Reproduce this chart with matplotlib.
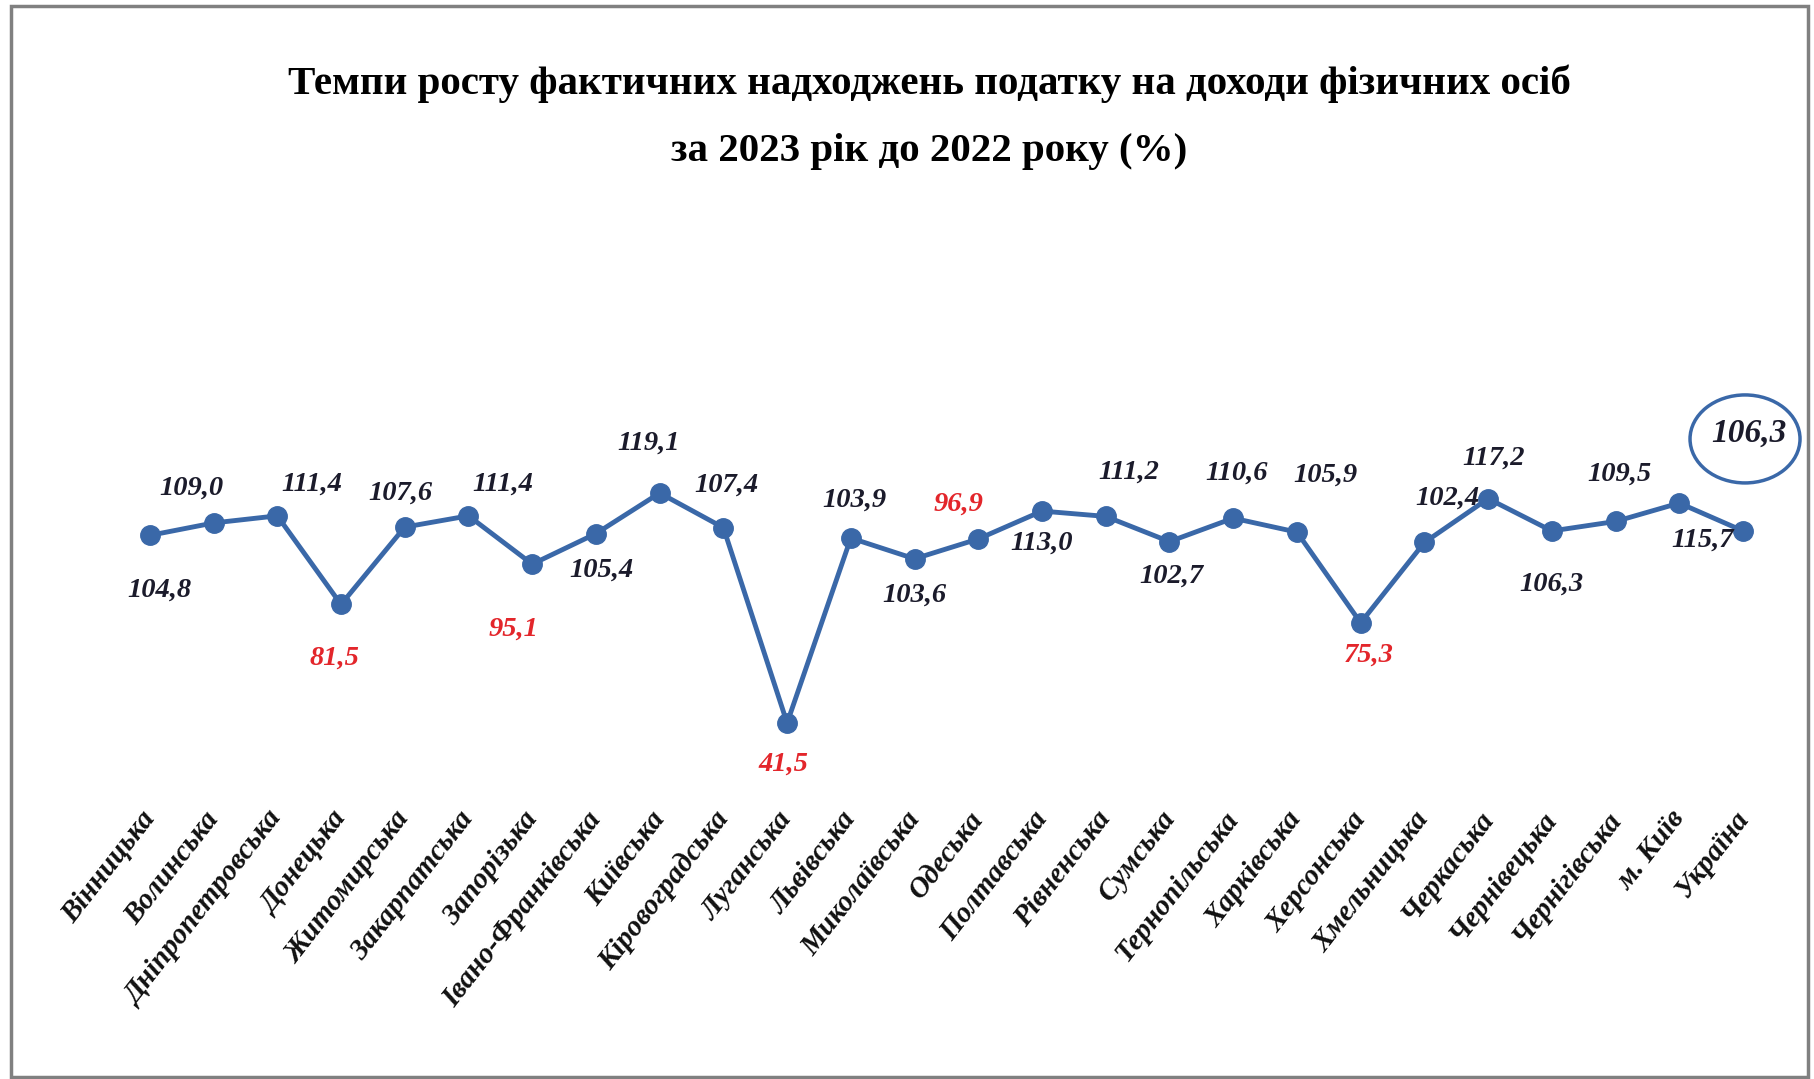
import matplotlib.pyplot as plt
from matplotlib.patches import Ellipse, Rectangle
from matplotlib.transforms import Affine2D, ScaledTranslation

regions = ["Вінницька", "Волинська", "Дніпропетровська", "Донецька", "Житомирська",
           "Закарпатська", "Запорізька", "Івано-Франківська", "Київська", "Кіровоградська",
           "Луганська", "Львівська", "Миколаївська", "Одеська", "Полтавська", "Рівненська",
           "Сумська", "Тернопільська", "Харківська", "Херсонська", "Хмельницька",
           "Черкаська", "Чернівецька", "Чернігівська", "м. Київ", "Україна"]
growth = [104.8, 109.0, 111.4, 81.5, 107.6, 111.4, 95.1, 105.4, 119.1, 107.4,
          41.5, 103.9, 96.9, 103.6, 113.0, 111.2, 102.7, 110.6, 105.9, 75.3,
          102.4, 117.2, 106.3, 109.5, 115.7, 106.3]

# label offsets (pixels of the reference picture, y down)
offs = [(8, 47), (-19, -30), (30, -27), (-6, 46), (-4, -29), (30, -27), (-16, 56),
        (5, 32), (-10, -43), (3, -37), (-3, 36), (3, -33), (38, -47), (-55, 49),
        (0, 28), (20, -38), (2, 30), (3, -39), (25, -49), (7, 28), (20, -38),
        (5, -35), (0, 46), (3, -41), (20, 32), (5, -84)]

line_col = "#3A68A8"
serif = "Liberation Serif"

fig = plt.figure(figsize=(18.15, 10.79), dpi=100)
ax = fig.add_axes([0.065, 0.2632, 0.9129, 0.3373])
x = list(range(len(regions)))
ax.plot(x, growth, color=line_col, lw=3.5, marker="o", ms=14, clip_on=False)
ax.set_xlim(-0.5, 25.5)
ax.set_ylim(17.2, 140)
for s in ax.spines.values():
    s.set_visible(False)
ax.set_yticks([])
ax.set_xticks(x)
ax.set_xticklabels(regions, rotation=52, ha="right", va="center", rotation_mode="anchor",
                   family=serif, fontsize=21, fontweight="bold", fontstyle="italic",
                   color="#111111")
ax.tick_params(axis="x", length=0, pad=14)

k = 1.1575
for i, v in enumerate(growth):
    dx, dy = offs[i]
    col = "#E3262B" if v < 100 else "#1b1b2b"
    fs = 24 if i == len(growth) - 1 else 20.5
    ax.annotate(f"{v:.1f}".replace(".", ","), (i, v), xytext=(dx * k, -dy * k),
                textcoords="offset pixels", ha="center", va="center",
                family=serif, fontsize=fs, fontweight="bold", fontstyle="italic",
                color=col, annotation_clip=False)

# circle around Ukraine value
tr = Affine2D().scale(55, 44).translate(2, 92) + ScaledTranslation(25, growth[-1], ax.transData)
fig.patches.append(Ellipse((0, 0), 2, 2, transform=tr, fill=False, ec=line_col, lw=2.5))

fig.text(0.512, 0.922, "Темпи росту фактичних надходжень податку на доходи фізичних осіб",
         ha="center", va="center", family=serif, fontsize=29.5, fontweight="bold")
fig.text(0.512, 0.860, "за 2023 рік до 2022 року (%)",
         ha="center", va="center", family=serif, fontsize=29.5, fontweight="bold")

fig.patches.append(Rectangle((11 / 1815, 2 / 1079), 1797 / 1815, 1071 / 1079,
                             transform=fig.transFigure, fill=False, ec="#808080", lw=2.5))

plt.savefig("out.png", dpi=100)
